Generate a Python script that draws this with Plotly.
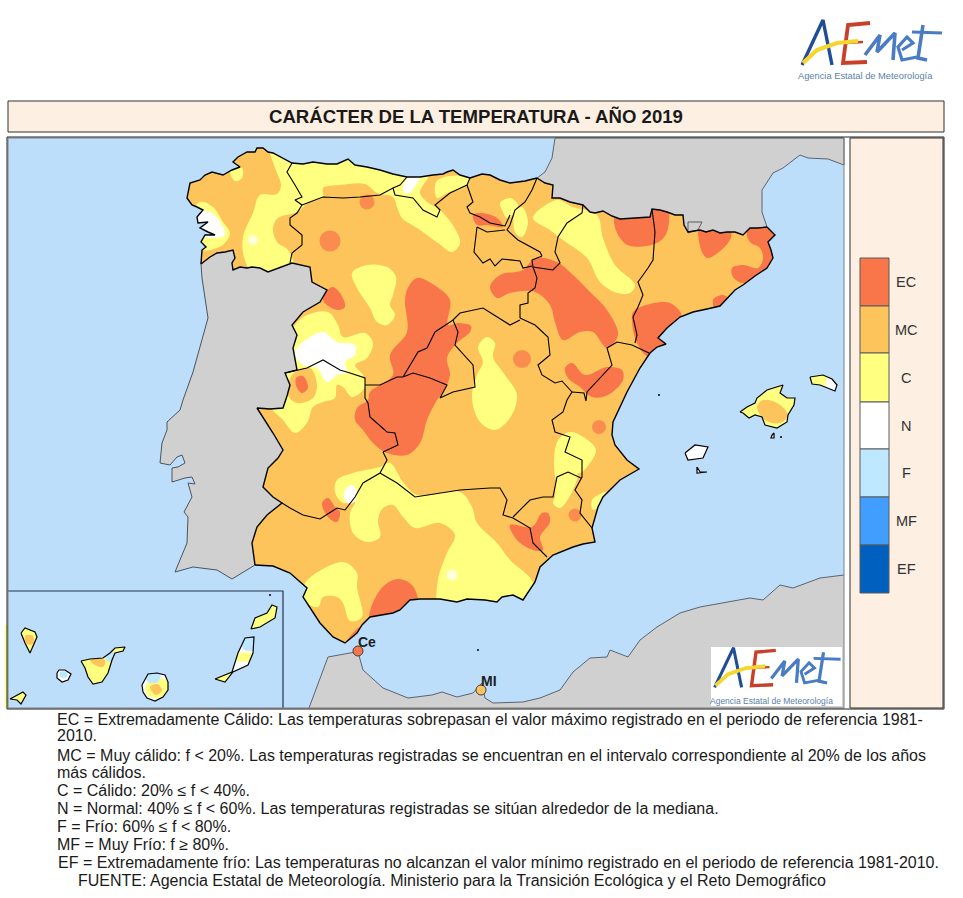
import plotly.graph_objects as go

# colours of the map classes
EC = "#F9754A"
MC = "#FDC45C"
CA = "#FFFF80"
NO = "#FFFFFF"
FR = "#BEE8FF"
MF = "#419EFF"
EF = "#0060BF"
SEA = "#BDDEFB"
LAND = "#D0D0D0"
PANEL = "#FDF0E2"

# --- outlines (page pixels) ---
coast_north = [(201,264),(202,250),(206,247),(201,242),(205,235),(215,235),(208,232),(200,228),(208,222),(198,223),(197,217),(203,210),(197,207),(192,205),(187,198),(188,192),(190,183),(200,180),(205,175),(212,172),(223,175),(232,170),(240,167),(233,162),(238,157),(247,152),(255,152),(257,148),(263,148),(268,152),(273,153),(292,163),(303,164),(313,162),(327,164),(337,164),(348,159),(355,165),(367,167),(380,170),(393,174),(407,177),(420,177),(433,175),(443,174),(447,172),(453,170),(460,175),(470,178),(482,174),(490,175),(500,180),(510,183),(525,181),(537,178)]
border_france = [(537,178),(545,183),(553,185),(552,198),(560,198),(570,202),(583,205),(590,212),(595,213),(603,211),(612,216),(620,219),(635,218),(650,217),(652,209),(660,210),(667,212),(675,215),(683,215),(684,225),(688,232),(700,230),(706,232),(713,230),(720,233),(727,232),(735,232),(743,235),(750,228),(758,228),(767,227)]
coast_med = [(767,227),(775,235),(768,242),(771,250),(773,258),(767,268),(755,276),(743,285),(735,290),(727,298),(720,306),(707,309),(693,312),(680,317),(667,328),(658,338),(666,344),(657,347),(650,353),(640,368),(627,392),(613,422),(612,435),(615,445),(621,453),(627,460),(639,469),(620,480),(603,497),(598,507),(592,528),(595,542),(583,544),(573,547),(553,555),(540,567),(535,582),(530,590),(523,600),(513,595),(502,597),(497,602),(485,600),(467,599),(457,602),(440,599),(420,599),(410,600),(400,610),(393,613),(370,617),(362,625),(357,633),(345,643),(333,637),(320,623),(314,614),(310,607),(303,597),(307,588),(290,573),(273,566),(255,565)]
border_portugal = [(255,565),(252,543),(257,527),(267,515),(282,503),(273,497),(263,487),(268,468),(278,458),(283,450),(273,433),(265,420),(257,408),(270,409),(283,408),(287,396),(290,385),(285,373),(297,370),(293,348),(297,335),(292,325),(303,312),(320,302),(327,290),(312,282),(310,267),(292,263),(278,268),(268,272),(260,268),(252,267),(247,268),(240,267),(233,270),(232,263),(235,258),(233,250),(225,252),(217,253),(210,257),(201,264)]

coast_portugal = [(201,264),(202,278),(208,318),(193,372),(183,400),(180,410),(167,422),(167,430),(162,443),(160,463),(170,465),(177,457),(182,455),(185,463),(178,467),(172,468),(172,482),(185,478),(192,477),(195,484),(188,483),(192,497),(184,512),(188,517),(187,543),(182,555),(175,572),(193,567),(217,570),(232,579),(255,565)]
coast_france = [(767,227),(762,212),(762,190),(773,173),(783,168),(800,155),(808,158),(828,159),(844,165),(844,138),(555,138),(552,158),(545,172),(537,178)]
coast_africa = [(309,708),(328,657),(350,653),(358,652),(363,670),(383,688),(408,698),(432,695),(442,692),(457,697),(473,693),(482,683),(485,698),(493,703),(523,702),(540,698),(560,690),(573,672),(590,658),(607,657),(610,650),(628,657),(640,640),(657,627),(680,613),(700,607),(750,598),(763,600),(780,585),(793,588),(820,578),(844,575),(844,708)]
andorra = [(688,222),(702,222),(698,230),(688,233),(688,222)]

mallorca = [(740,412),(747,407),(755,403),(757,398),(767,390),(778,387),(783,385),(780,393),(787,398),(795,398),(794,405),(788,415),(787,422),(777,428),(765,425),(762,417),(755,415),(749,418),(743,413)]
menorca = [(810,377),(823,375),(832,379),(837,385),(835,391),(820,385),(812,384)]
ibiza = [(685,453),(695,445),(708,447),(703,458),(688,460)]
formentera = [(697,467),(700,472),(707,472),(697,473)]
cabrera = [(772,435),(774,433),(774,438),(771,438)]
la_palma = [(21,633),(25,628),(35,632),(37,637),(30,653),(25,643)]
el_hierro = [(10,699),(23,692),(26,695),(21,704),(17,700)]
la_gomera = [(57,673),(59,670),(65,670),(71,674),(68,680),(62,682),(57,678)]
tenerife = [(81,661),(90,659),(103,658),(110,653),(115,648),(125,647),(123,651),(115,653),(112,660),(108,673),(102,682),(93,684),(88,677),(85,668)]
gran_canaria = [(142,685),(145,680),(148,674),(157,673),(165,675),(168,682),(168,690),(163,697),(155,701),(147,698),(143,692)]
fuerteventura = [(215,679),(232,672),(238,653),(245,638),(254,637),(253,653),(248,665),(233,672),(225,682)]
lanzarote = [(251,629),(255,618),(267,613),(272,605),(277,607),(275,618),(260,627)]
islands = [mallorca, menorca, ibiza, formentera, cabrera, la_palma, el_hierro, la_gomera, tenerife, gran_canaria, fuerteventura, lanzarote]

# tiny islets
islet_x = [478, 659, 270, 781]
islet_y = [650, 395, 595, 437]

# regional borders
regions = [
    [(292,163),(287,172),(295,185),(302,197),(295,200),(302,205),(297,213),(290,218),(290,225),(302,235),(302,245),(292,253),(290,263)],
    [(302,205),(323,197),(343,198),(360,197),(380,195),(393,188),(395,195),(413,198),(423,210),(437,217),(440,210),(435,205),(450,193),(467,185),(470,178)],
    [(393,188),(400,185),(407,177)],
    [(467,185),(473,202),(467,207),(470,213),(480,217),(490,223),(505,226),(510,215)],
    [(537,178),(532,190),(525,202),(515,210),(510,225),(507,230),(518,240),(540,252),(542,256)],
    [(477,227),(474,252),(483,263),(490,259),(495,266),(502,259),(520,261),(523,268),(532,266)],
    [(477,227),(487,232),(505,230)],
    [(583,205),(582,213),(567,223),(558,237),(555,252),(560,263),(553,270),(540,268),(533,267),(532,260),(542,256)],
    [(533,267),(537,278),(535,288),(528,293),(528,303),(520,305),(520,318)],
    [(453,320),(460,313),(483,308),(497,317),(510,325),(520,320)],
    [(520,318),(535,325),(548,337),(550,355),(538,365),(542,375),(555,383),(562,381),(572,392),(567,400),(563,412),(552,420),(555,432),(570,437),(565,452),(582,460),(582,477),(575,490),(582,500),(580,513),(592,528)],
    [(513,517),(530,500),(543,497),(553,497),(557,477),(568,472),(581,478)],
    [(572,392),(584,393),(586,401),(587,392),(600,378),(612,365),(607,348),(617,342),(632,345),(649,353)],
    [(652,209),(655,232),(653,260),(648,268),(638,282),(643,295),(638,307),(633,317),(637,335),(635,343)],
    [(282,503),(290,508),(303,515),(320,519),(337,508),(345,510),(355,497),(363,483),(380,473),(387,460),(383,452)],
    [(380,473),(397,483),(415,497),(440,493),(460,490),(490,488),(500,488),(507,500),(503,515),(513,518),(530,528),(533,543),(547,557)],
    [(383,452),(398,445),(395,433),(387,432),(370,417),(368,403),(365,398),(365,378),(350,373),(340,370),(323,360),(307,368),(285,373)],
    [(403,377),(418,352),(427,348),(435,332),(453,320),(458,332),(455,345),(473,365),(475,387),(453,392),(440,398),(447,385),(430,378),(413,373),(403,377)],
    [(365,385),(380,385),(397,377),(403,377)],
]

# --- temperature class areas ---
c_areas = [
    [(268,142),(275,168),(281,185),(277,194),(260,195),(253,213),(243,237),(244,257),(252,272),(273,277),(293,265),(288,250),(277,242),(273,228),(278,218),(297,212),(308,203),(323,197),(323,188),(340,185),(365,184),(377,193),(393,197),(397,207),(402,218),(417,228),(438,243),(452,252),(460,243),(454,227),(440,210),(427,202),(420,193),(422,187),(428,178),(430,172),(420,168),(380,152),(280,148),(268,142)],
    [(436,182),(450,176),(470,178),(465,187),(447,193),(437,198),(436,182)],
    [(200,202),(213,207),(223,222),(230,233),(225,243),(217,248),(203,250),(185,230),(200,202)],
    [(230,170),(242,168),(242,178),(235,181),(230,170)],
    [(352,273),(367,265),(387,267),(396,277),(393,295),(390,305),(395,315),(387,325),(377,322),(370,308),(357,288),(352,273)],
    [(307,315),(328,312),(338,325),(343,337),(365,333),(373,343),(367,358),(355,365),(363,375),(365,387),(352,397),(343,387),(337,385),(335,398),(323,402),(313,407),(307,423),(295,433),(283,420),(270,405),(280,380),(280,350),(295,325),(307,315)],
    [(478,347),(487,337),(495,343),(493,357),(505,375),(517,395),(510,418),(495,430),(480,422),(472,398),(477,375),(483,362),(478,347)],
    [(500,203),(510,198),(518,205),(513,215),(507,218),(502,210),(500,203)],
    [(515,212),(522,207),(528,222),(522,237),(515,232),(515,212)],
    [(533,218),(557,200),(573,207),(597,215),(603,238),(615,265),(635,285),(630,293),(617,293),(600,282),(587,258),(560,238),(550,230),(533,218)],
    [(337,480),(353,473),(380,467),(390,463),(403,482),(417,495),(460,492),(472,507),(477,523),(497,543),(510,560),(533,583),(527,607),(440,607),(438,580),(447,553),(455,535),(440,523),(415,528),(403,517),(393,505),(383,508),(378,520),(380,537),(367,542),(353,533),(350,513),(355,502),(343,503),(335,492),(337,480)],
    [(305,583),(343,562),(357,573),(357,587),(362,617),(350,621),(343,603),(337,597),(323,597),(318,607),(303,600),(305,583)],
    [(557,442),(570,432),(585,438),(596,450),(590,463),(580,473),(568,472),(557,480),(557,442)],
    [(555,497),(558,478),(577,473),(573,490),(560,508),(553,503),(555,497)],
    [(592,500),(607,492),(602,503),(593,510),(592,500)],
]
mc_patches = [
    [(292,375),(310,368),(317,385),(313,398),(297,403),(288,395),(292,375)],
]
n_areas = [
    [(197,212),(212,213),(223,227),(225,235),(213,238),(200,235),(197,212)],
    [(403,190),(409,176),(420,175),(414,188),(407,194),(403,190)],
    [(297,348),(310,337),(323,332),(337,342),(355,345),(355,355),(345,362),(347,372),(337,375),(327,382),(317,368),(303,365),(295,355),(297,348)],
    [(345,490),(352,485),(357,493),(353,503),(346,502),(345,490)],
    [(828,378),(840,385),(838,394),(826,387),(828,378)],
]
ec_areas = [
    [(332,287),(340,293),(345,307),(337,310),(323,300),(332,287)],
    [(417,278),(437,287),(450,300),(448,325),(458,323),(471,326),(470,332),(457,343),(447,358),(450,375),(443,392),(437,400),(427,420),(420,443),(407,455),(387,453),(373,443),(363,430),(355,420),(357,408),(368,400),(370,392),(393,375),(390,355),(407,332),(405,302),(407,290),(417,278)],
    [(490,287),(500,275),(523,270),(535,258),(557,262),(573,275),(588,290),(607,310),(618,335),(607,348),(593,332),(580,332),(563,340),(555,322),(550,305),(535,292),(510,293),(497,298),(490,287)],
    [(473,215),(482,213),(497,218),(503,227),(488,225),(477,225),(473,215)],
    [(614,220),(620,210),(650,205),(667,207),(667,232),(657,243),(630,246),(620,238),(614,220)],
    [(700,222),(730,228),(730,240),(708,258),(702,252),(700,222)],
    [(747,232),(770,220),(782,235),(778,265),(762,272),(743,283),(733,277),(732,268),(743,265),(758,268),(763,258),(760,248),(750,242),(747,232)],
    [(713,300),(723,295),(732,302),(717,312),(713,300)],
    [(633,312),(643,306),(670,303),(682,317),(667,332),(672,350),(650,358),(637,343),(632,322),(633,312)],
    [(565,368),(572,363),(585,375),(607,367),(622,370),(623,380),(608,395),(592,397),(580,387),(568,378),(565,368)],
    [(322,503),(328,498),(335,507),(340,512),(337,522),(328,517),(322,503)],
    [(370,620),(380,590),(397,579),(412,585),(418,605),(407,612),(393,622),(370,620)],
    [(345,645),(362,626),(366,632),(350,648),(345,645)],
    [(510,525),(532,527),(542,513),(548,513),(550,522),(540,537),(543,550),(533,550),(517,540),(510,525)],
    [(296,378),(303,376),(308,388),(302,393),(297,388),(296,378)],
]
# round spots: centre x, centre y, diameter
ec_spot_x = [330, 367, 522, 599, 575]
ec_spot_y = [241, 202, 359, 427, 515]
ec_spot_d = [21, 15, 18, 14, 13]
n_spot_x = [253, 452]
n_spot_y = [240, 575]
n_spot_d = [10, 11]

# islands, painted under the sea layer
island_base = [
    ([(735,380),(800,380),(800,435),(735,435),(735,380)], CA),
    ([(805,370),(842,370),(842,395),(805,395),(805,370)], CA),
    ([(680,440),(712,440),(712,478),(680,478),(680,440)], NO),
    ([(5,625),(130,625),(130,708),(5,708),(5,625)], CA),
    ([(50,665),(75,665),(75,685),(50,685),(50,665)], NO),
    ([(138,670),(172,670),(172,704),(138,704),(138,670)], NO),
    ([(246,602),(280,602),(280,632),(246,632),(246,602)], CA),
    ([(212,632),(258,632),(258,685),(212,685),(212,632)], NO),
]
island_patches = [
    ([(757,407),(763,400),(777,403),(788,415),(780,423),(765,420),(757,407)], MC),
    ([(828,378),(840,385),(838,394),(826,387),(828,378)], NO),
    ([(90,660),(105,660),(103,667),(95,665),(90,660)], MC),
    ([(150,680),(166,680),(168,695),(150,697),(145,690),(150,680)], CA),
    ([(150,687),(157,684),(162,690),(156,695),(150,687)], MC),
    ([(105,653),(113,651),(112,661),(107,661),(105,653)], FR),
    ([(60,672),(67,672),(67,677),(60,677),(60,672)], FR),
    ([(145,672),(160,672),(158,682),(148,682),(145,672)], FR),
    ([(243,636),(256,636),(254,650),(243,649),(243,636)], FR),
    ([(237,654),(255,654),(253,660),(235,660),(237,654)], CA),
    ([(213,676),(232,668),(234,676),(226,685),(213,685),(213,676)], CA),
    ([(248,620),(262,618),(262,630),(248,632),(248,620)], CA),
    ([(25,636),(33,636),(33,644),(27,644),(25,636)], MC),
]

# points for Ceuta and Melilla
city_names = ["Ce", "MI"]
city_x = [358, 481]
city_y = [651, 690]
city_colors = [EC, MC]

# logo strokes
logo_a = [(802,65),(823,20),(832,65)]
logo_swoosh = [(803,63),(817,50),(837,43),(858,41)]
logo_e = [(870,23),(848,25),(843,63),(867,62)]
logo_e_mid = [(845,43),(863,42)]
logo_m = [(865,55),(880,35),(877,52),(895,33),(893,60)]
logo_e2 = [(902,50),(913,43),(907,37),(898,47),(902,60),(917,57)]
logo_t = [(923,25),(918,58),(927,60)]
logo_t_bar = [(912,32),(942,33)]

# legend
legend_labels = ["EC", "MC", "C", "N", "F", "MF", "EF"]
legend_colors = [EC, MC, CA, NO, FR, MF, EF]
legend_edges = [258, 306, 353, 402, 449, 497, 545, 593]

note_lines = [
    (55, 719, "EC = Extremadamente Cálido: Las temperaturas sobrepasan el valor máximo registrado en el periodo de referencia 1981-"),
    (55, 735, "2010."),
    (55, 755, "MC = Muy cálido: f < 20%. Las temperaturas registradas se encuentran en el intervalo correspondiente al 20% de los años"),
    (55, 772, "más cálidos."),
    (55, 790, "C = Cálido: 20% ≤ f < 40%."),
    (55, 808, "N = Normal: 40% ≤ f < 60%. Las temperaturas registradas se sitúan alrededor de la mediana."),
    (55, 826, "F = Frío: 60% ≤ f < 80%."),
    (55, 844, "MF = Muy Frío: f ≥ 80%."),
    (56, 862, "EF = Extremadamente frío: Las temperaturas no alcanzan el valor mínimo registrado en el periodo de referencia 1981-2010."),
    (76, 880, "FUENTE: Agencia Estatal de Meteorología. Ministerio para la Transición Ecológica y el Reto Demográfico"),
]

fig = go.Figure()


def xs(pts):
    return [p[0] for p in pts]


def ys(pts):
    return [p[1] for p in pts]


def area(pts):
    return sum(pts[i][0]*pts[(i+1) % len(pts)][1] - pts[(i+1) % len(pts)][0]*pts[i][1] for i in range(len(pts)))


def add_fill(pts, color, smooth=False):
    fig.add_trace(go.Scatter(x=xs(pts), y=ys(pts), mode="lines", fill="toself", fillcolor=color,
                             line=dict(width=0, color=color, shape="spline" if smooth else "linear", smoothing=1),
                             hoverinfo="skip"))


def add_line(pts, color="black", width=1.3):
    fig.add_trace(go.Scatter(x=xs(pts), y=ys(pts), mode="lines", line=dict(color=color, width=width), hoverinfo="skip"))


def add_spots(x, y, d, color):
    fig.add_trace(go.Scatter(x=x, y=y, mode="markers", marker=dict(size=d, color=color, line=dict(width=0)), hoverinfo="skip"))


spain = coast_north + border_france[1:] + coast_med[1:] + border_portugal[1:]

# base and class areas
add_fill(spain, MC)
for poly in c_areas:
    add_fill(poly, CA, True)
for poly in mc_patches:
    add_fill(poly, MC, True)
for poly in n_areas:
    add_fill(poly, NO, True)
for poly in ec_areas:
    add_fill(poly, EC, True)
add_spots(ec_spot_x, ec_spot_y, ec_spot_d, EC)
add_spots(n_spot_x, n_spot_y, n_spot_d, NO)
for poly, col in island_base:
    add_fill(poly, col)
for poly, col in island_patches:
    add_fill(poly, col, True)

# sea painted on top, with holes where the land is
mask_x = [8, 8, 844, 844, 8]
mask_y = [138, 708, 708, 138, 138]
for poly in [spain] + islands:
    hole = poly if area(poly) > 0 else poly[::-1]
    mask_x += [None] + xs(hole) + [hole[0][0]]
    mask_y += [None] + ys(hole) + [hole[0][1]]
fig.add_trace(go.Scatter(x=mask_x, y=mask_y, mode="lines", fill="toself", fillcolor=SEA,
                         line=dict(width=0, color=SEA), hoverinfo="skip"))

# other countries
add_fill(coast_portugal + border_portugal[1:], LAND)
add_fill(border_france + coast_france[1:], LAND)
add_fill(coast_africa, LAND)
add_line(coast_portugal, "#4A5460", 1)
add_line(coast_france, "#5A6470", 1)
add_line(coast_africa[:-1], "#5A6470", 1)
add_line(andorra, "#404040", 0.8)

# borders and coast
for seg in regions:
    add_line(seg, "black", 1.1)
for seg in [coast_north, border_france, coast_med, border_portugal]:
    add_line(seg, "black", 1.4)
for isl in islands:
    add_line(isl + isl[:1], "black", 1.2)
add_spots(islet_x, islet_y, 2, "black")

# inset frame
add_line([(8, 591), (283, 591), (283, 708)], "#24324A", 1.2)

# cities
fig.add_trace(go.Scatter(x=city_x, y=city_y, mode="markers", hoverinfo="skip",
                         marker=dict(size=10, color=city_colors, line=dict(color="#404040", width=1))))
for name, x, y in zip(city_names, city_x, city_y):
    fig.add_annotation(x=x - 2, y=y - 9, text=name, showarrow=False, xanchor="left",
                       font=dict(family="Liberation Sans", size=14, color="#202020", weight="bold"))


# logos
def add_logo(fx, fy, scale=1.0):
    def place(pts):
        return [(fx(p[0]), fy(p[1])) for p in pts]
    add_line(place(logo_a), "#1F4E96", 3.4*scale)
    add_line(place(logo_e), "#C8402A", 3.8*scale)
    add_line(place(logo_e_mid), "#C8402A", 2.6*scale)
    add_line(place(logo_swoosh), "#F5D62E", 4.2*scale)
    add_line(place(logo_m), "#4A7CC4", 3.6*scale)
    add_line(place(logo_e2), "#4A7CC4", 3.2*scale)
    add_line(place(logo_t), "#4A7CC4", 3.6*scale)
    add_line(place(logo_t_bar), "#4A7CC4", 3.2*scale)


add_logo(lambda v: v, lambda v: v)
add_fill([(711, 647), (842, 647), (842, 706), (711, 706), (711, 647)], "white")
add_logo(lambda v: 711 + (v - 798)*0.9, lambda v: 646 + (v - 18)*0.88, 0.9)

fig.add_annotation(x=796, y=76, text="Agencia Estatal de Meteorología", showarrow=False, xanchor="left",
                   font=dict(family="Liberation Sans", size=9.3, color="#5B7FA8"))
fig.add_annotation(x=708, y=701, text="Agencia Estatal de Meteorología", showarrow=False, xanchor="left",
                   font=dict(family="Liberation Sans", size=8.5, color="#5B7FA8"))

# legend
for i, lab in enumerate(legend_labels):
    top, bottom = legend_edges[i], legend_edges[i + 1]
    fig.add_shape(type="rect", x0=860, x1=889, y0=top, y1=bottom, fillcolor=legend_colors[i],
                  line=dict(color="#5A5A5A", width=1))
    fig.add_annotation(x=906, y=(top + bottom)/2, text=lab, showarrow=False,
                       font=dict(family="Liberation Sans", size=14.5, color="#333333"))

# frames
fig.add_shape(type="rect", x0=8, x1=944, y0=101, y1=132, fillcolor=PANEL, line=dict(color="#303030", width=1), layer="below")
fig.add_shape(type="rect", x0=850, x1=943, y0=138, y1=708, fillcolor=PANEL, line=dict(color="#303030", width=1), layer="below")
fig.add_shape(type="rect", x0=8, x1=844, y0=138, y1=708, line=dict(color="#808080", width=1))
fig.add_shape(type="rect", x0=7, x1=944, y0=137, y1=709, line=dict(color="#202020", width=1))

fig.add_annotation(x=476, y=116, text="CARÁCTER DE LA TEMPERATURA - AÑO 2019", showarrow=False,
                   font=dict(family="Liberation Sans", size=18.6, color="#1A1A1A", weight="bold"))

for x, y, line in note_lines:
    fig.add_annotation(x=x, y=y, text=line, showarrow=False, xanchor="left",
                       font=dict(family="Liberation Sans", size=16, color="#1A1A1A"))

fig.update_layout(width=963, height=898, margin=dict(l=0, r=0, t=0, b=0), showlegend=False,
                  paper_bgcolor="white", plot_bgcolor="white",
                  xaxis=dict(range=[0, 963], visible=False, fixedrange=True),
                  yaxis=dict(range=[898, 0], visible=False, fixedrange=True))

fig.write_html("out.html", config={"displayModeBar": False},
               post_script="document.body.style.margin='0';document.body.style.overflow='hidden';")
